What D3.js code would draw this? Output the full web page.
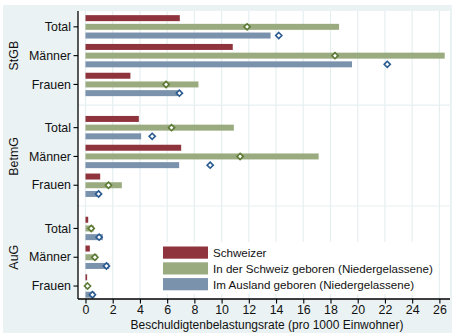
<!DOCTYPE html>
<html>
<head>
<meta charset="utf-8">
<script src="https://cdn.jsdelivr.net/npm/d3@7"></script>
<style>
  body { margin: 0; background: #fff; }
  text { font-family: "Liberation Sans", Arial, sans-serif; fill: #111; }
</style>
</head>
<body>
<div id="chart"></div>
<script>
// chart values
var groups = ["StGB", "BetmG", "AuG"];
var sexes = ["Total", "Männer", "Frauen"];
var seriesNames = ["Schweizer", "In der Schweiz geboren (Niedergelassene)", "Im Ausland geboren (Niedergelassene)"];
var schweizer = [6.93, 10.82, 3.3, 3.92, 7.03, 1.08, 0.2, 0.32, 0.12];
var geborenCH = [18.63, 26.39, 8.3, 10.9, 17.13, 2.67, 0.61, 0.86, 0.05];
var geborenAusland = [13.6, 19.58, 6.88, 4.09, 6.88, 1.08, 1.27, 1.74, 0.68];
var markerCH = [11.87, 18.33, 5.92, 6.32, 11.36, 1.69, 0.42, 0.69, 0.15];
var markerAusland = [14.2, 22.17, 6.9, 4.9, 9.16, 0.96, 1.0, 1.54, 0.51];
var xTicks = [0, 2, 4, 6, 8, 10, 12, 14, 16, 18, 20, 22, 24, 26];

var width = 453, height = 334;
var plotL = 78, plotR = 450, plotT = 11, plotB = 299;
var barColors = ["#8f343d", "#9bab80", "#7a92ac"];
var markColors = [null, "#5b7a34", "#2a5a90"];

var svg = d3.select("#chart").append("svg")
    .attr("width", width)
    .attr("height", height);

// outer background + plot region
svg.append("rect").attr("x", 3).attr("y", 5).attr("width", 449).attr("height", 328).attr("fill", "#eaf2f3");
svg.append("rect").attr("x", plotL).attr("y", plotT).attr("width", plotR - plotL).attr("height", plotB - plotT).attr("fill", "#fff");

var x = d3.scaleLinear().domain([-0.55, 26.78]).range([plotL, plotR]);
// slot positions: 3 rows per group, 1.5 rows between groups
var y = d3.scaleLinear().domain([-0.55, 9.45]).range([plotT, plotB]);
function slot(i) { return Math.floor(i / 3) * 3.5 + (i % 3); }

// gridlines
svg.append("g").selectAll("line").data(xTicks).enter().append("line")
    .attr("x1", function (d) { return x(d); }).attr("x2", function (d) { return x(d); })
    .attr("y1", plotT).attr("y2", plotB)
    .attr("stroke", "#e6eff0").attr("stroke-width", 1.2);
svg.append("g").selectAll("line").data([2.72, 6.22]).enter().append("line")
    .attr("x1", plotL).attr("x2", plotR)
    .attr("y1", function (d) { return y(d); }).attr("y2", function (d) { return y(d); })
    .attr("stroke", "#e6eff0").attr("stroke-width", 1.2);

// bars
var allSeries = [schweizer, geborenCH, geborenAusland];
var pitch = 8.7, barH = 6;
allSeries.forEach(function (vals, s) {
    svg.append("g").selectAll("rect").data(vals).enter().append("rect")
        .attr("x", x(0))
        .attr("y", function (d, i) { return y(slot(i)) + (s - 1) * pitch - barH / 2; })
        .attr("width", function (d) { return x(d) - x(0); })
        .attr("height", barH)
        .attr("fill", barColors[s]);
});

// markers
var markers = [null, markerCH, markerAusland];
var diamond = d3.symbol().type(d3.symbolDiamond2).size(24);
[1, 2].forEach(function (s) {
    svg.append("g").selectAll("path").data(markers[s]).enter().append("path")
        .attr("d", diamond)
        .attr("transform", function (d, i) { return "translate(" + x(d) + "," + (y(slot(i)) + (s - 1) * pitch) + ")"; })
        .attr("fill", "#fff")
        .attr("stroke", markColors[s])
        .attr("stroke-width", 1.6);
});

// legend
var legX = 163, legY = 246.5;
svg.append("rect").attr("x", 158).attr("y", 242).attr("width", 280).attr("height", 52).attr("fill", "#fff");
seriesNames.forEach(function (n, s) {
    svg.append("rect").attr("x", legX).attr("y", legY + s * 15.8).attr("width", 45).attr("height", 12.2)
        .attr("fill", barColors[s]);
    svg.append("text").attr("x", 213).attr("y", legY + s * 15.8 + 10.5)
        .attr("font-size", 11.6).text(n);
});

// y axis
svg.append("line").attr("x1", plotL).attr("x2", plotL).attr("y1", plotT).attr("y2", plotB)
    .attr("stroke", "#000").attr("stroke-width", 1.3);
var rows = d3.range(9);
svg.append("g").selectAll("line").data(rows).enter().append("line")
    .attr("x1", plotL - 4.5).attr("x2", plotL)
    .attr("y1", function (i) { return y(slot(i)); }).attr("y2", function (i) { return y(slot(i)); })
    .attr("stroke", "#000").attr("stroke-width", 1.1);
svg.append("g").selectAll("text").data(rows).enter().append("text")
    .attr("x", 71).attr("y", function (i) { return y(slot(i)) + 4.2; })
    .attr("text-anchor", "end").attr("font-size", 12.4)
    .text(function (i) { return sexes[i % 3]; });
svg.append("g").selectAll("text").data(groups).enter().append("text")
    .attr("transform", function (d, g) { return "translate(18," + y(g * 3.5 + 1) + ") rotate(-90)"; })
    .attr("text-anchor", "middle").attr("font-size", 12.4)
    .text(function (d) { return d; });

// x axis
var xAxis = svg.append("g").attr("transform", "translate(0," + plotB + ")")
    .call(d3.axisBottom(x).tickValues(xTicks).tickSize(4.5).tickPadding(2));
xAxis.select(".domain").attr("d", "M" + plotL + ",0H" + plotR).attr("stroke-width", 1.3);
xAxis.selectAll(".tick line").attr("stroke-width", 1.1);
xAxis.selectAll("text").attr("font-size", 12.4).attr("font-family", "Liberation Sans, Arial, sans-serif").attr("fill", "#111");

svg.append("text").attr("x", 267).attr("y", 329).attr("text-anchor", "middle")
    .attr("font-size", 12).text("Beschuldigtenbelastungsrate (pro 1000 Einwohner)");
</script>
</body>
</html>
